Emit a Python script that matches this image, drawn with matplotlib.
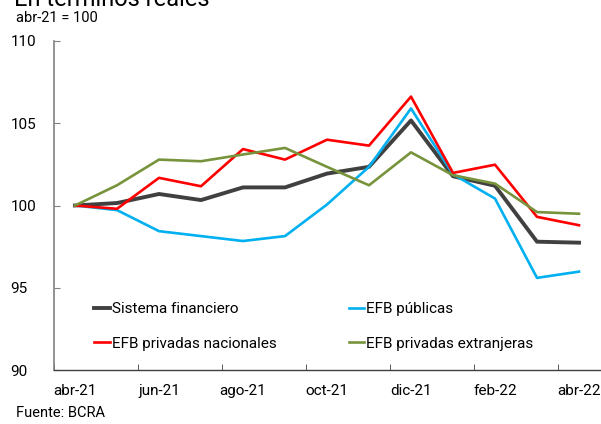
import matplotlib
matplotlib.use("Agg")
import matplotlib.pyplot as plt
import numpy as np

plt.rcParams['font.family'] = ['Roboto', 'DejaVu Sans']

months = ["abr-21", "may-21", "jun-21", "jul-21", "ago-21", "sep-21", "oct-21",
          "nov-21", "dic-21", "ene-22", "feb-22", "mar-22", "abr-22"]
sistema = [100.0, 100.15, 100.7, 100.33, 101.1, 101.1, 101.94, 102.35, 105.17, 101.78, 101.2, 97.8, 97.74]
publicas = [100.0, 99.72, 98.44, 98.14, 97.84, 98.14, 100.06, 102.35, 105.9, 101.9, 100.42, 95.6, 95.98]
priv_nac = [100.0, 99.8, 101.68, 101.17, 103.43, 102.79, 104.0, 103.64, 106.62, 101.98, 102.48, 99.31, 98.8]
priv_ext = [100.0, 101.23, 102.79, 102.69, 103.1, 103.5, 102.35, 101.23, 103.23, 101.84, 101.33, 99.6, 99.5]
yticks = [90, 95, 100, 105, 110]

fig = plt.figure(figsize=(6.01, 4.24), dpi=100)
ax = fig.add_axes([54/601, 54/424, 546/601, 329/424])

x = np.arange(len(months))
h1, = ax.plot(x, sistema, color="#404040", lw=2.8, label="Sistema financiero")
h2, = ax.plot(x, publicas, color="#00B0F0", lw=1.9, label="EFB públicas")
h3, = ax.plot(x, priv_nac, color="#FF0000", lw=1.9, label="EFB privadas nacionales")
h4, = ax.plot(x, priv_ext, color="#77933C", lw=1.9, label="EFB privadas extranjeras")

ax.set_xlim(-0.5, len(months) - 0.5)
ax.set_ylim(90, 110)
ax.set_yticks(yticks)
ax.set_yticklabels([str(v) for v in yticks], fontsize=11)
ax.set_xticks(x[::2])
ax.set_xticklabels(months[::2], fontsize=11)
ax.set_xticks(np.arange(-0.5, len(months), 2), minor=True)
ax.tick_params(axis='x', which='major', length=0, pad=10)
ax.tick_params(axis='x', which='minor', direction='in', length=4, color='#404040')
ax.tick_params(axis='y', direction='in', length=4, color='#808080', pad=31.5)
for lab in ax.get_yticklabels():
    lab.set_horizontalalignment('left')

for s in ['top', 'right']:
    ax.spines[s].set_visible(False)
ax.spines['left'].set_color('#808080')
ax.spines['left'].set_linewidth(1.2)
ax.spines['bottom'].set_color('#404040')
ax.spines['bottom'].set_linewidth(1.0)

leg = ax.legend([h1, h3, h2, h4], [h1.get_label(), h3.get_label(), h2.get_label(), h4.get_label()],
                loc='upper left', bbox_to_anchor=(0.06, 0.23), ncol=2, frameon=False,
                fontsize=11, handlelength=1.0, handletextpad=0.15, columnspacing=4.7,
                labelspacing=1.35, borderpad=0)

fig.text(16/601, 1 - 18/424, "abr-21 = 100", fontsize=10.5, va='center', ha='left')
fig.text(14/601, 1 - 0/424, "En términos reales", fontsize=17, va='center', ha='left')
fig.text(16/601, 1 - 413/424, "Fuente: BCRA", fontsize=10.5, va='center', ha='left')

fig.savefig("out.png", dpi=100)
